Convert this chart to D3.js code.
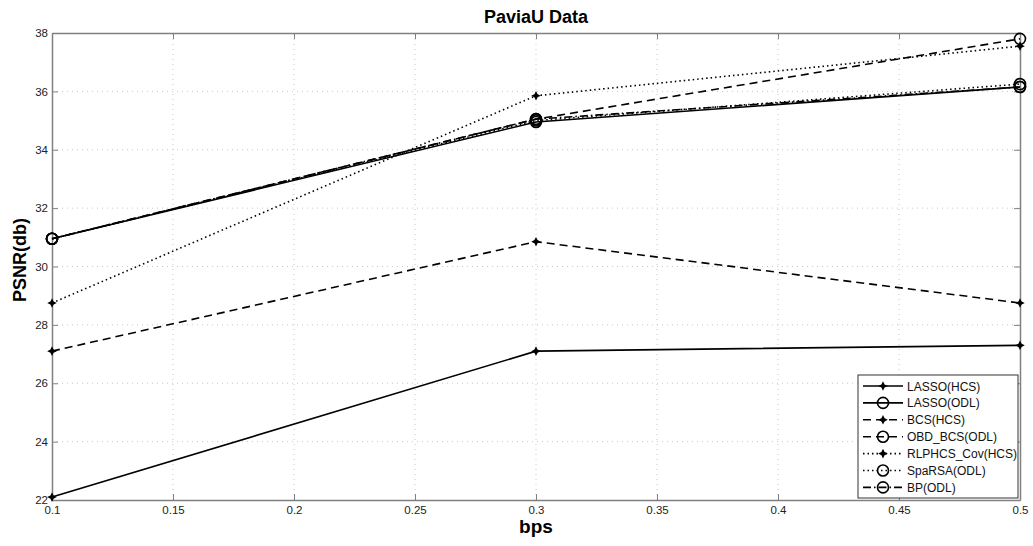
<!DOCTYPE html>
<html>
<head>
<meta charset="utf-8">
<script src="https://cdn.jsdelivr.net/npm/d3@7"></script>
<style>
  body { margin: 0; background: #fff; }
  svg { font-family: "Liberation Sans", Arial, sans-serif; }
</style>
</head>
<body>
<svg id="chart" width="1033" height="546"></svg>
<script>
const bps = [0.1, 0.3, 0.5]
const seriesNames = ['LASSO(HCS)', 'LASSO(ODL)', 'BCS(HCS)', 'OBD_BCS(ODL)', 'RLPHCS_Cov(HCS)', 'SpaRSA(ODL)', 'BP(ODL)']
const lassoHcs = [22.1, 27.1, 27.3]
const lassoOdl = [30.95, 34.95, 36.15]
const bcsHcs = [27.1, 30.85, 28.75]
const obdBcsOdl = [30.95, 35.05, 37.8]
const rlphcsHcs = [28.75, 35.85, 37.55]
const sparsaOdl = [30.95, 35.0, 36.25]
const bpOdl = [30.95, 35.05, 36.15]
const xTicks = [0.1, 0.15, 0.2, 0.25, 0.3, 0.35, 0.4, 0.45, 0.5]
const yTicks = [22, 24, 26, 28, 30, 32, 34, 36, 38]

const seriesValues = [lassoHcs, lassoOdl, bcsHcs, obdBcsOdl, rlphcsHcs, sparsaOdl, bpOdl]
// line style + marker per series
const dashes = ['none', 'none', '8,5', '8,5', '1.5,3', '1.5,3', '8,3,1.5,3']
const markers = ['star', 'circle', 'star', 'circle', 'star', 'circle', 'circle']

const margin = {top: 33, right: 13, bottom: 46, left: 52}
const width = 1033, height = 546

const svg = d3.select('#chart')

const x = d3.scaleLinear().domain([0.1, 0.5]).range([margin.left, width - margin.right])
const y = d3.scaleLinear().domain([22, 38]).range([height - margin.bottom, margin.top])

// grid
svg.append('g')
  .selectAll('line')
  .data(xTicks.slice(1, -1))
  .join('line')
    .attr('x1', d => x(d)).attr('x2', d => x(d))
    .attr('y1', y(22)).attr('y2', y(38))
    .attr('stroke', '#c8c8c8').attr('stroke-dasharray', '1,4')

svg.append('g')
  .selectAll('line')
  .data(yTicks.slice(1, -1))
  .join('line')
    .attr('x1', x(0.1)).attr('x2', x(0.5))
    .attr('y1', d => y(d)).attr('y2', d => y(d))
    .attr('stroke', '#c8c8c8').attr('stroke-dasharray', '1,4')

// axes (ticks point inward, on all four sides)
const axisColor = '#808080'
const styleAxis = g => {
  g.select('.domain').attr('stroke', axisColor).attr('stroke-width', 1.5)
  g.selectAll('.tick line').attr('stroke', axisColor)
  g.selectAll('.tick text').attr('fill', '#222').attr('font-size', 11.5)
}

svg.append('g')
  .attr('transform', 'translate(0,' + y(22) + ')')
  .call(d3.axisBottom(x).tickValues(xTicks).tickFormat(d3.format('~g')).tickSizeInner(-6).tickSizeOuter(0).tickPadding(6))
  .call(styleAxis)

svg.append('g')
  .attr('transform', 'translate(0,' + y(38) + ')')
  .call(d3.axisTop(x).tickValues(xTicks).tickFormat('').tickSizeInner(-6).tickSizeOuter(0))
  .call(styleAxis)

svg.append('g')
  .attr('transform', 'translate(' + x(0.1) + ',0)')
  .call(d3.axisLeft(y).tickValues(yTicks).tickSizeInner(-6).tickSizeOuter(0).tickPadding(4))
  .call(styleAxis)

svg.append('g')
  .attr('transform', 'translate(' + x(0.5) + ',0)')
  .call(d3.axisRight(y).tickValues(yTicks).tickFormat('').tickSizeInner(-6).tickSizeOuter(0))
  .call(styleAxis)

// star marker (small filled 4-point sparkle)
const starPath = 'M0,-4.8 L1.6,-1.6 L4.8,0 L1.6,1.6 L0,4.8 L-1.6,1.6 L-4.8,0 L-1.6,-1.6 Z'

function drawMarker(g, kind, cx, cy) {
  if (kind === 'star') {
    g.append('path').attr('d', starPath)
      .attr('transform', 'translate(' + cx + ',' + cy + ')')
      .attr('fill', '#000')
  } else {
    g.append('circle').attr('cx', cx).attr('cy', cy).attr('r', 5.5)
      .attr('fill', 'none').attr('stroke', '#000').attr('stroke-width', 1.6)
  }
}

const line = d3.line().x((d, i) => x(bps[i])).y(d => y(d))

const plot = svg.append('g')
seriesValues.forEach((vals, k) => {
  plot.append('path')
    .attr('d', line(vals))
    .attr('fill', 'none')
    .attr('stroke', '#000')
    .attr('stroke-width', 1.6)
    .attr('stroke-dasharray', dashes[k])
  vals.forEach((v, i) => drawMarker(plot, markers[k], x(bps[i]), y(v)))
})

// legend
const lg = svg.append('g').attr('transform', 'translate(858,375)')
lg.append('rect').attr('width', 160).attr('height', 123)
  .attr('fill', '#fff').attr('stroke', '#333').attr('stroke-width', 1)
seriesNames.forEach((name, k) => {
  const ly = 11 + k * 16.9
  lg.append('line').attr('x1', 5).attr('x2', 45).attr('y1', ly).attr('y2', ly)
    .attr('stroke', '#000').attr('stroke-width', 1.6)
    .attr('stroke-dasharray', dashes[k])
  drawMarker(lg, markers[k], 25, ly)
  lg.append('text').attr('x', 49).attr('y', ly + 4.5)
    .attr('font-size', 12).attr('fill', '#111').text(name)
})

// titles
svg.append('text').attr('x', x(0.3)).attr('y', 23).attr('text-anchor', 'middle')
  .attr('font-size', 18).attr('font-weight', 'bold').text('PaviaU Data')
svg.append('text').attr('x', x(0.3)).attr('y', 533).attr('text-anchor', 'middle')
  .attr('font-size', 19).attr('font-weight', 'bold').text('bps')
svg.append('text').attr('transform', 'translate(26,260) rotate(-90)')
  .attr('text-anchor', 'middle')
  .attr('font-size', 18).attr('font-weight', 'bold').text('PSNR(db)')
</script>
</body>
</html>
